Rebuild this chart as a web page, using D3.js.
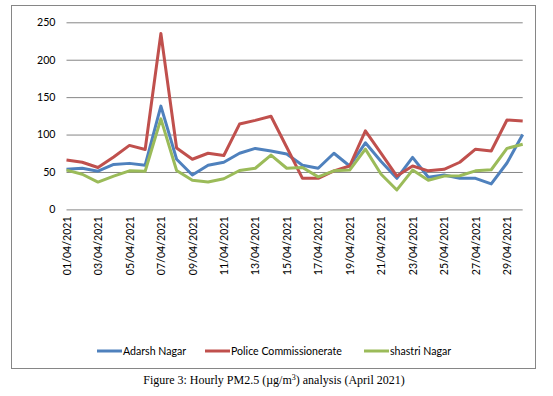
<!DOCTYPE html>
<html>
<head>
<meta charset="utf-8">
<script src="https://cdn.jsdelivr.net/npm/d3@7"></script>
<style>
  body { margin: 0; background: #fff; }
  svg { display: block; }
</style>
</head>
<body>
<div id="chart"></div>
<script>
// data (daily PM2.5, April 2021)
var dates = ["01/04/2021","02/04/2021","03/04/2021","04/04/2021","05/04/2021","06/04/2021",
  "07/04/2021","08/04/2021","09/04/2021","10/04/2021","11/04/2021","12/04/2021",
  "13/04/2021","14/04/2021","15/04/2021","16/04/2021","17/04/2021","18/04/2021",
  "19/04/2021","20/04/2021","21/04/2021","22/04/2021","23/04/2021","24/04/2021",
  "25/04/2021","26/04/2021","27/04/2021","28/04/2021","29/04/2021","30/04/2021"];

var adarsh = [53.5,55,51,60,61.5,59,138,67,46,59,63,75,81.5,78,74,59,55,75,58,89,64,41.5,69.5,43,46,41.5,41.5,34,62,100];
var police = [66,63,56,70,85.5,80,235,82,67,75,72,114,119,124.5,83,41.5,41.5,51.5,58,105,75,44.5,58,51.5,53.5,63,80.5,78,119.5,118];
var shastri = [52.5,47,36.5,44.5,51.5,51,121,52,39,36.5,41,52,55,72.5,55,56,43.5,51.5,52.5,80.5,47,26,52.5,39,44.5,45,51.5,53,81.5,87];

var seriesNames = ["Adarsh Nagar", "Police Commissionerate", "shastri Nagar"];
var seriesColors = ["#4f81bd", "#c0504d", "#9bbb59"];
var yTicks = [0, 50, 100, 150, 200, 250];

var svgWidth = 553;
var svgHeight = 396;

var svg = d3.select("#chart")
    .append("svg")
    .attr("width", svgWidth)
    .attr("height", svgHeight);

// chart frame
svg.append("rect")
    .attr("x", 11.5)
    .attr("y", 5.5)
    .attr("width", 524)
    .attr("height", 363)
    .attr("fill", "#fff")
    .attr("stroke", "#868686")
    .attr("stroke-width", 1);

var plotLeft = 66.5, plotRight = 522.7;
var plotTop = 22.3, plotBottom = 209.4;

var x = d3.scalePoint()
    .domain(dates)
    .range([plotLeft, plotRight]);

var y = d3.scaleLinear()
    .domain([0, 250])
    .range([plotBottom, plotTop]);

var fontAxis = "Lato, 'Open Sans', sans-serif";

// y axis + gridlines
var yAxis = svg.append("g")
    .attr("transform", `translate(${plotLeft},0)`)
    .call(d3.axisLeft(y)
        .tickValues(yTicks)
        .tickSize(-(plotRight - plotLeft))
        .tickPadding(11));
yAxis.select(".domain").remove();
yAxis.selectAll("line")
    .attr("stroke", "#868686")
    .attr("stroke-width", 1);
yAxis.selectAll("text")
    .attr("fill", "#000")
    .style("font-family", fontAxis)
    .style("font-size", "10.6px");

// x axis (every other date)
var xAxis = svg.append("g")
    .attr("transform", `translate(0,${plotBottom})`)
    .call(d3.axisBottom(x)
        .tickValues(dates.filter(function(d, i) { return i % 2 == 0; }))
        .tickSize(0));
xAxis.select(".domain").remove();
xAxis.selectAll("text")
    .attr("transform", "rotate(-90)")
    .attr("x", -7)
    .attr("y", 0)
    .attr("dy", "0.35em")
    .attr("fill", "#000")
    .style("text-anchor", "end")
    .style("font-family", fontAxis)
    .style("font-size", "10.6px");

// lines
var line = d3.line()
    .x(function(d, i) { return x(dates[i]); })
    .y(function(d) { return y(d); });

[adarsh, police, shastri].forEach(function(vals, k) {
    svg.append("path")
        .datum(vals)
        .attr("fill", "none")
        .attr("stroke", seriesColors[k])
        .attr("stroke-width", 3)
        .attr("stroke-linejoin", "round")
        .attr("d", line);
});

// legend
var legendX = [97, 205, 364];
var legendY = 351;
seriesNames.forEach(function(name, k) {
    svg.append("line")
        .attr("x1", legendX[k])
        .attr("x2", legendX[k] + 25)
        .attr("y1", legendY)
        .attr("y2", legendY)
        .attr("stroke", seriesColors[k])
        .attr("stroke-width", 3);
    svg.append("text")
        .attr("x", legendX[k] + 26)
        .attr("y", legendY)
        .attr("dy", "0.35em")
        .attr("fill", "#000")
        .style("font-family", fontAxis)
        .style("font-size", "10.6px")
        .text(name);
});

// caption
var caption = svg.append("text")
    .attr("x", 274)
    .attr("y", 384)
    .attr("text-anchor", "middle")
    .attr("fill", "#000")
    .style("font-family", "'Liberation Serif', 'Times New Roman', serif")
    .style("font-size", "12px");
caption.append("tspan").text("Figure 3: Hourly PM2.5 (µg/m");
caption.append("tspan").attr("dy", -4).style("font-size", "8px").text("3");
caption.append("tspan").attr("dy", 4).text(") analysis (April 2021)");
</script>
</body>
</html>
